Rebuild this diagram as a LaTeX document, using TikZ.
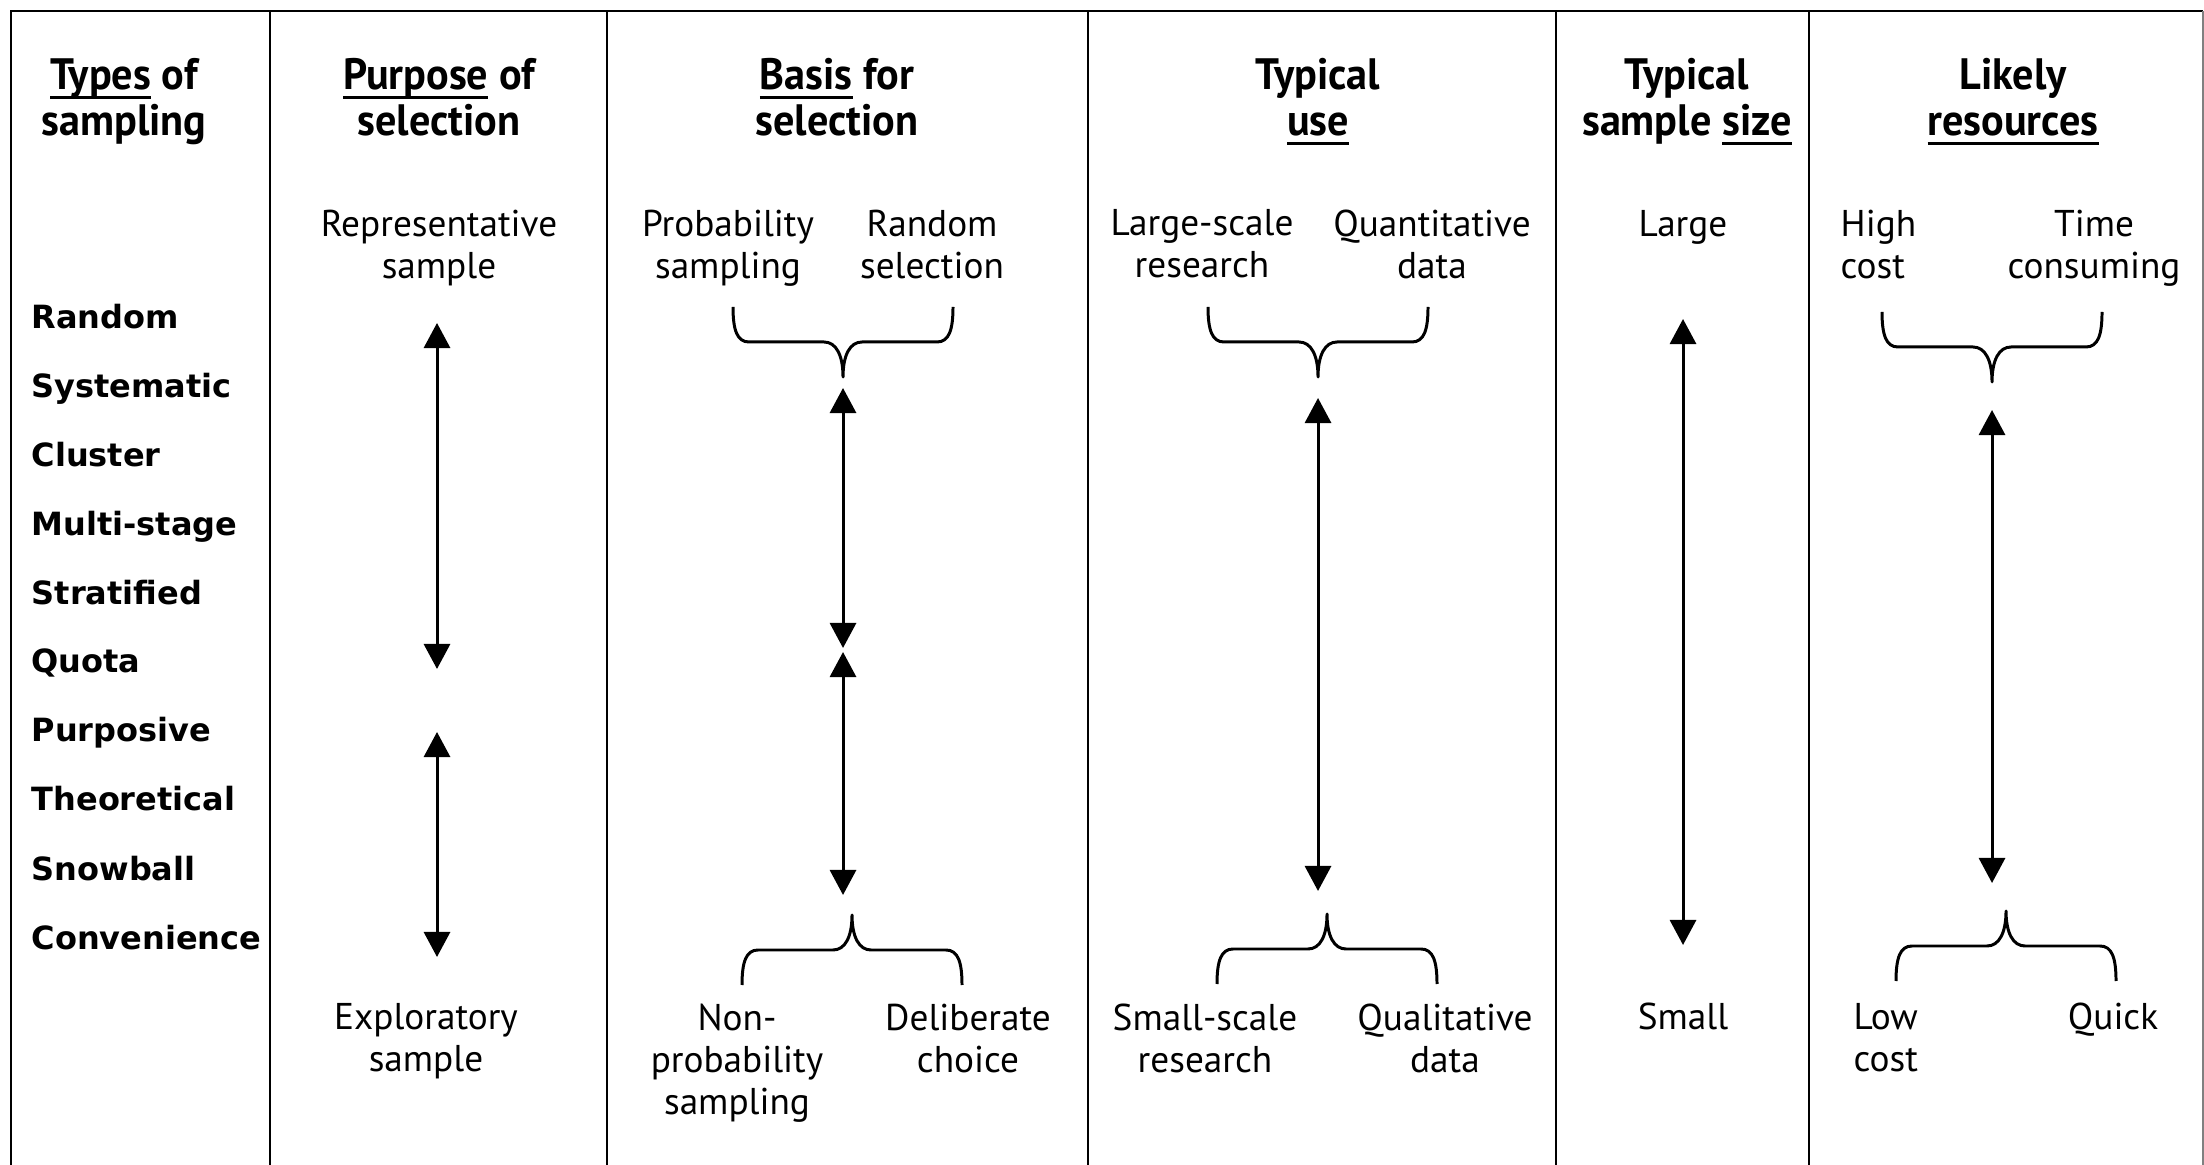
\documentclass[tikz,border=0pt]{standalone}
\usepackage{fontspec}
\setmainfont{PT Sans}
\newfontfamily\lblfont{DejaVu Sans}
\newfontfamily\hdfont[FakeStretch=0.96]{PT Sans}
\usetikzlibrary{arrows.meta}
\newcommand{\hdul}[1]{\setbox0\hbox{#1}\rlap{\rule[-2.6pt]{\wd0}{0.8pt}}\box0\relax}

\tikzset{
	hd/.style={anchor=north, align=center, inner sep=0pt, execute at begin node=\strut, font=\hdfont\bfseries\fontsize{12.5}{13}\selectfont},
	txt/.style={anchor=north, align=center, inner sep=0pt, execute at begin node=\strut, font=\fontsize{10.6}{12}\selectfont},
	kind/.style={anchor=base west, inner sep=0pt, font=\lblfont\bfseries\fontsize{9.1}{10}\selectfont},
	rule/.style={line width=0.75pt},
	dbl/.style={{Triangle[width=2.6mm,length=2.5mm]}-{Triangle[width=2.6mm,length=2.5mm]}, line width=0.85pt},
	cbrace/.pic={\draw[line width=0.85pt, line join=round] (-110,-70) .. controls (-110,-47) and (-106,-35) .. (-94,-35) -- (-19,-35) .. controls (-7,-35) and (0,-22) .. (0,0) .. controls (0,-22) and (7,-35) .. (19,-35) -- (94,-35) .. controls (106,-35) and (110,-47) .. (110,-70);}
}

\begin{document}
\begin{tikzpicture}[x=0.01cm, y=-0.01cm]
		\useasboundingbox (0,0) rectangle (2204,1165);
		
		% frame and columns
		\draw[rule] (11,1165) -- (11,11) -- (2203,11);
		\draw[rule] (270,11) -- (270,1165);
		\draw[rule] (607,11) -- (607,1165);
		\draw[rule] (1088,11) -- (1088,1165);
		\draw[rule] (1556,11) -- (1556,1165);
		\draw[rule] (1809,11) -- (1809,1165);
		\draw[gray, line width=0.5pt] (2203,11) -- (2203,1165);
		
		% headings
		\draw (124,58) node[hd] (h1) {\hdul{Types} of\\sampling}
		(439,58) node[hd] (h2) {\hdul{Purpose} of\\selection}
		(837,58) node[hd] (h3) {\hdul{Basis} for\\selection}
		(1318,58) node[hd] (h4) {Typical\\\hdul{use}}
		(1687,58) node[hd] (h5) {Typical\\sample \hdul{size}}
		(2013,58) node[hd] (h6) {Likely\\\hdul{resources}};
		
		% types of sampling
		\draw (31,329) node[kind] (k1) {Random}
		(31,398) node[kind] (k2) {Systematic}
		(31,467) node[kind] (k3) {Cluster}
		(31,536) node[kind] (k4) {Multi-stage}
		(31,605) node[kind] (k5) {Stratified}
		(31,673) node[kind] (k6) {Quota}
		(31,742) node[kind] (k7) {Purposive}
		(31,811) node[kind] (k8) {Theoretical}
		(31,880) node[kind] (k9) {Snowball}
		(31,949) node[kind] (k10) {Convenience};
		
		% top ends
		\draw (439,209) node[txt] (rep) {Representative\\sample}
		(728,209) node[txt] (prob) {Probability\\sampling}
		(932,209) node[txt] (rsel) {Random\\selection}
		(1202,209) node[txt] (lsr) {Large-scale\\research}
		(1432,209) node[txt] (quant) {Quantitative\\data}
		(1683,206) node[txt] (large) {Large}
		(1840,209) node[txt, anchor=north west, align=left] (high) {High\\cost}
		(2094,209) node[txt] (time) {Time\\consuming};
		
		% bottom ends
		\draw (426,1003) node[txt] (expl) {Exploratory\\sample}
		(737,1003) node[txt] (nonprob) {Non-\\probability\\sampling}
		(968,1003) node[txt] (delib) {Deliberate\\choice}
		(1205,1003) node[txt] (ssr) {Small-scale\\research}
		(1445,1003) node[txt] (qual) {Qualitative\\data}
		(1683,999) node[txt] (small) {Small}
		(1853,1003) node[txt, anchor=north west, align=left] (low) {Low\\cost}
		(2113,999) node[txt] (quick) {Quick};
		
		% braces
		\pic at (843,377) {cbrace};
		\pic[yscale=-1] at (852,915) {cbrace};
		\pic at (1318,377) {cbrace};
		\pic[yscale=-1] at (1327,914) {cbrace};
		\pic at (1992,382) {cbrace};
		\pic[yscale=-1] at (2006,911) {cbrace};
		
		% arrow ends
		\coordinate (p1) at (437,323);
		\coordinate (p2) at (437,669);
		\coordinate (p3) at (437,732);
		\coordinate (p4) at (437,957);
		\coordinate (b1) at (843,388);
		\coordinate (b2) at (843,648);
		\coordinate (b3) at (843,652);
		\coordinate (b4) at (843,895);
		\coordinate (u1) at (1318,398);
		\coordinate (u2) at (1318,891);
		\coordinate (s1) at (1683,319);
		\coordinate (s2) at (1683,945);
		\coordinate (r1) at (1992,410);
		\coordinate (r2) at (1992,883);
		
		\draw[dbl] (p1) -- (p2);
		\draw[dbl] (p3) -- (p4);
		\draw[dbl] (b1) -- (b2);
		\draw[dbl] (b3) -- (b4);
		\draw[dbl] (u1) -- (u2);
		\draw[dbl] (s1) -- (s2);
		\draw[dbl] (r1) -- (r2);
	\end{tikzpicture}
\end{document}
